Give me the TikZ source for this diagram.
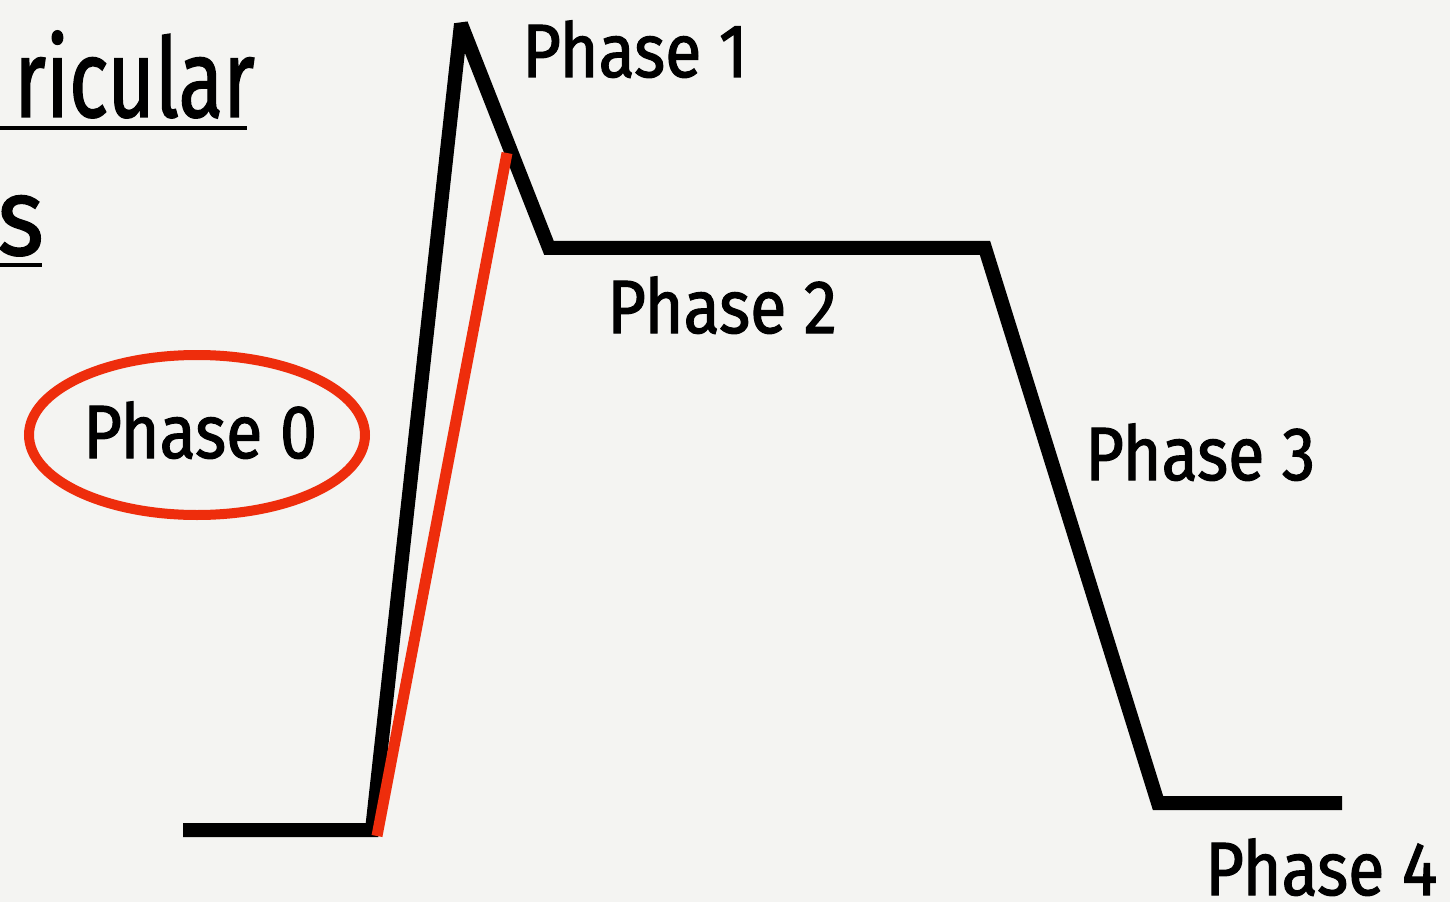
\documentclass[tikz,border=0pt]{standalone}
\usepackage{fontspec}
\setmainfont{Fira Sans}
\newfontfamily\lblfont{Fira Sans}[FakeStretch=0.88,FakeBold=1.5]
\newfontfamily\ttlfont{Fira Sans}[FakeStretch=0.74,FakeBold=1.2]
\newfontfamily\ttlwfont{Fira Sans}[FakeStretch=0.9,FakeBold=1.2]
\definecolor{bg}{RGB}{244,244,242}
\definecolor{redline}{RGB}{238,45,12}
\begin{document}
\begin{tikzpicture}[x=0.02cm,y=-0.02cm,
  lbl/.style={anchor=base west,inner sep=0pt,font=\lblfont\fontsize{43}{48}\selectfont},
  ttl/.style={anchor=base west,inner sep=0pt,font=\ttlfont\fontsize{63}{70}\selectfont},
  ttlw/.style={anchor=base west,inner sep=0pt,font=\ttlwfont\fontsize{63}{70}\selectfont},
  trace/.style={line width=14*0.02cm,line join=miter,miter limit=2,black},
  redtrace/.style={line width=11*0.02cm,redline},
  ring/.style={line width=10*0.02cm,redline}]
\fill[bg] (0,0) rectangle (1450,902);
\useasboundingbox (0,0) rectangle (1450,902);
% trace points
\coordinate (p0) at (183,830);
\coordinate (p1) at (372,830);
\coordinate (p2) at (461,24);
\coordinate (p3) at (549,248);
\coordinate (p4) at (985,248);
\coordinate (p5) at (1158,803);
\coordinate (p6) at (1342,803);
\coordinate (r0) at (377,836);
\coordinate (r1) at (507,153);
\draw[trace] (p0) -- (p1) -- (p2) -- (p3) -- (p4) -- (p5) -- (p6);
\draw[redtrace] (r0) -- (r1);
% title fragments
\node[ttl] (t1) at (14,117) {ricular};
\node[ttlw] (t2) at (-3,255) {s};
\draw[line width=4*0.02cm] (0,128) -- (247,128);
\draw[line width=4*0.02cm] (0,265) -- (42,265);
% labels
\node[lbl] (ph0) at (83,458) {Phase 0};
\node[lbl] (ph1) at (522,77) {Phase 1};
\node[lbl] (ph2) at (607,333) {Phase 2};
\node[lbl] (ph3) at (1085,480) {Phase 3};
\node[lbl] (ph4) at (1205,895) {Phase 4};
\draw[ring] (197,435) ellipse [x radius=168, y radius=80];
\end{tikzpicture}
\end{document}
